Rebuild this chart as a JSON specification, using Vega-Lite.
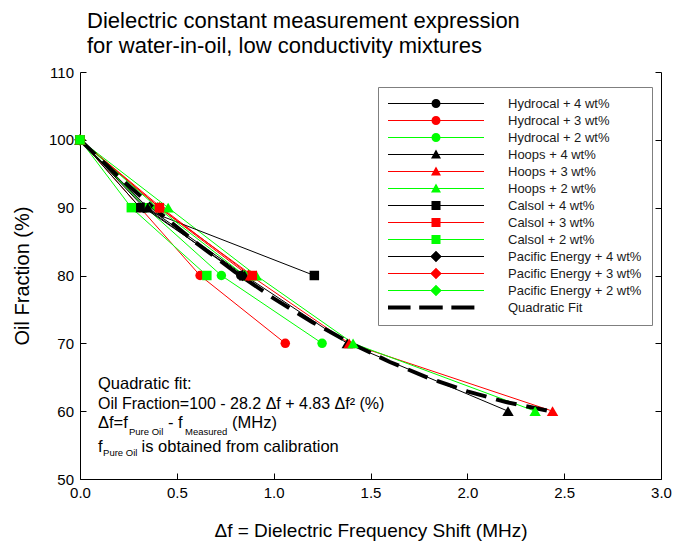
{
  "$schema": "https://vega.github.io/schema/vega-lite/v6.json",
  "width": 581,
  "height": 407,
  "autosize": {"type": "none"},
  "padding": {"left": 80, "top": 72, "right": 15, "bottom": 65},
  "background": "white",
  "title": {
    "text": ["Dielectric constant measurement expression", "for water-in-oil, low conductivity mixtures"],
    "anchor": "start", "frame": "group", "font": "Liberation Sans", "fontSize": 22,
    "fontWeight": "normal", "color": "black", "lineHeight": 25, "offset": 7, "dx": 7
  },
  "config": {
    "view": {"stroke": null},
    "axis": {"grid": false, "domainColor": "black", "tickColor": "black", "labelColor": "black", "titleColor": "black",
      "labelFont": "Liberation Sans", "titleFont": "Liberation Sans", "titleFontWeight": "normal"}
  },
  "datasets": {
    "pts": [
      {"series": "Hydrocal + 4 wt%", "product": "Hydrocal", "df": 0, "oil": 100},
      {"series": "Hydrocal + 4 wt%", "product": "Hydrocal", "df": 0.34, "oil": 90},
      {"series": "Hydrocal + 4 wt%", "product": "Hydrocal", "df": 0.83, "oil": 80},
      {"series": "Hydrocal + 3 wt%", "product": "Hydrocal", "df": 0, "oil": 100},
      {"series": "Hydrocal + 3 wt%", "product": "Hydrocal", "df": 0.31, "oil": 90},
      {"series": "Hydrocal + 3 wt%", "product": "Hydrocal", "df": 0.62, "oil": 80},
      {"series": "Hydrocal + 3 wt%", "product": "Hydrocal", "df": 1.06, "oil": 70},
      {"series": "Hydrocal + 2 wt%", "product": "Hydrocal", "df": 0, "oil": 100},
      {"series": "Hydrocal + 2 wt%", "product": "Hydrocal", "df": 0.34, "oil": 90},
      {"series": "Hydrocal + 2 wt%", "product": "Hydrocal", "df": 0.73, "oil": 80},
      {"series": "Hydrocal + 2 wt%", "product": "Hydrocal", "df": 1.25, "oil": 70},
      {"series": "Hoops + 4 wt%", "product": "Hoops", "df": 0, "oil": 100},
      {"series": "Hoops + 4 wt%", "product": "Hoops", "df": 0.35, "oil": 90},
      {"series": "Hoops + 4 wt%", "product": "Hoops", "df": 0.85, "oil": 80},
      {"series": "Hoops + 4 wt%", "product": "Hoops", "df": 1.38, "oil": 70},
      {"series": "Hoops + 4 wt%", "product": "Hoops", "df": 2.21, "oil": 60},
      {"series": "Hoops + 3 wt%", "product": "Hoops", "df": 0, "oil": 100},
      {"series": "Hoops + 3 wt%", "product": "Hoops", "df": 0.42, "oil": 90},
      {"series": "Hoops + 3 wt%", "product": "Hoops", "df": 0.88, "oil": 80},
      {"series": "Hoops + 3 wt%", "product": "Hoops", "df": 1.39, "oil": 70},
      {"series": "Hoops + 3 wt%", "product": "Hoops", "df": 2.44, "oil": 60},
      {"series": "Hoops + 2 wt%", "product": "Hoops", "df": 0, "oil": 100},
      {"series": "Hoops + 2 wt%", "product": "Hoops", "df": 0.455, "oil": 90},
      {"series": "Hoops + 2 wt%", "product": "Hoops", "df": 0.91, "oil": 80},
      {"series": "Hoops + 2 wt%", "product": "Hoops", "df": 1.41, "oil": 70},
      {"series": "Hoops + 2 wt%", "product": "Hoops", "df": 2.35, "oil": 60},
      {"series": "Calsol + 4 wt%", "product": "Calsol", "df": 0, "oil": 100},
      {"series": "Calsol + 4 wt%", "product": "Calsol", "df": 0.31, "oil": 90},
      {"series": "Calsol + 4 wt%", "product": "Calsol", "df": 1.21, "oil": 80},
      {"series": "Calsol + 3 wt%", "product": "Calsol", "df": 0, "oil": 100},
      {"series": "Calsol + 3 wt%", "product": "Calsol", "df": 0.41, "oil": 90},
      {"series": "Calsol + 3 wt%", "product": "Calsol", "df": 0.89, "oil": 80},
      {"series": "Calsol + 2 wt%", "product": "Calsol", "df": 0, "oil": 100},
      {"series": "Calsol + 2 wt%", "product": "Calsol", "df": 0.265, "oil": 90},
      {"series": "Calsol + 2 wt%", "product": "Calsol", "df": 0.655, "oil": 80},
      {"series": "Pacific Energy + 4 wt%", "product": "Pacific Energy", "df": 0, "oil": 100},
      {"series": "Pacific Energy + 4 wt%", "product": "Pacific Energy", "df": 0.33, "oil": 90},
      {"series": "Pacific Energy + 4 wt%", "product": "Pacific Energy", "df": 0.84, "oil": 80},
      {"series": "Pacific Energy + 3 wt%", "product": "Pacific Energy", "df": 0, "oil": 100},
      {"series": "Pacific Energy + 3 wt%", "product": "Pacific Energy", "df": 0.41, "oil": 90},
      {"series": "Pacific Energy + 3 wt%", "product": "Pacific Energy", "df": 0.87, "oil": 80},
      {"series": "Pacific Energy + 2 wt%", "product": "Pacific Energy", "df": 0, "oil": 100},
      {"series": "Pacific Energy + 2 wt%", "product": "Pacific Energy", "df": 0.40, "oil": 90},
      {"series": "Pacific Energy + 2 wt%", "product": "Pacific Energy", "df": 0.85, "oil": 80}
    ],
    "fit": [
      {"df": 0, "oil": 100}, {"df": 0.2, "oil": 94.55}, {"df": 0.4, "oil": 89.49}, {"df": 0.6, "oil": 84.82},
      {"df": 0.8, "oil": 80.53}, {"df": 1.0, "oil": 76.63}, {"df": 1.2, "oil": 73.12}, {"df": 1.4, "oil": 69.99},
      {"df": 1.6, "oil": 67.25}, {"df": 1.8, "oil": 64.89}, {"df": 2.0, "oil": 62.92}, {"df": 2.2, "oil": 61.34},
      {"df": 2.42, "oil": 60.04}
    ]
  },
  "layer": [
    {
      "data": {"name": "pts"},
      "mark": {"type": "point", "filled": true, "size": 9216, "opacity": 0},
      "encoding": {
        "x": {"field": "df", "type": "quantitative", "scale": {"domain": [0, 3], "nice": false, "zero": false}},
        "y": {"field": "oil", "type": "quantitative", "axis": null, "scale": {"domain": [50, 110], "nice": false, "zero": false}},
        "color": {"field": "series", "type": "nominal",
          "scale": {"domain": ["Hydrocal + 4 wt%", "Hydrocal + 3 wt%", "Hydrocal + 2 wt%", "Hoops + 4 wt%", "Hoops + 3 wt%", "Hoops + 2 wt%", "Calsol + 4 wt%", "Calsol + 3 wt%", "Calsol + 2 wt%", "Pacific Energy + 4 wt%", "Pacific Energy + 3 wt%", "Pacific Energy + 2 wt%", "Quadratic Fit"],
            "range": ["#000000", "#ff0000", "#00ff00", "#000000", "#ff0000", "#00ff00", "#000000", "#ff0000", "#00ff00", "#000000", "#ff0000", "#00ff00", "#000000"]},
          "legend": {"title": null, "orient": "none", "legendX": 298, "legendY": 15, "direction": "vertical",
            "labelFont": "Liberation Sans", "labelFontSize": 13, "labelColor": "#1a1a1a", "labelLimit": 300,
            "symbolSize": 9216, "symbolOpacity": 1, "symbolStrokeWidth": 0, "labelOffset": 24, "rowPadding": 3,
            "padding": 10, "strokeColor": "#7f7f7f", "fillColor": "white", "clipHeight": 13}},
        "shape": {"field": "series", "type": "nominal",
          "scale": {"domain": ["Hydrocal + 4 wt%", "Hydrocal + 3 wt%", "Hydrocal + 2 wt%", "Hoops + 4 wt%", "Hoops + 3 wt%", "Hoops + 2 wt%", "Calsol + 4 wt%", "Calsol + 3 wt%", "Calsol + 2 wt%", "Pacific Energy + 4 wt%", "Pacific Energy + 3 wt%", "Pacific Energy + 2 wt%", "Quadratic Fit"],
            "range": [
              "M-1,-0.011H1V0.011H-1Z M-0.094,0A0.094,0.094 0 1,1 0.094,0A0.094,0.094 0 1,1 -0.094,0Z",
              "M-1,-0.011H1V0.011H-1Z M-0.094,0A0.094,0.094 0 1,1 0.094,0A0.094,0.094 0 1,1 -0.094,0Z",
              "M-1,-0.011H1V0.011H-1Z M-0.094,0A0.094,0.094 0 1,1 0.094,0A0.094,0.094 0 1,1 -0.094,0Z",
              "M-1,-0.011H1V0.011H-1Z M0,-0.104L0.104,0.083H-0.104Z",
              "M-1,-0.011H1V0.011H-1Z M0,-0.104L0.104,0.083H-0.104Z",
              "M-1,-0.011H1V0.011H-1Z M0,-0.104L0.104,0.083H-0.104Z",
              "M-1,-0.011H1V0.011H-1Z M-0.094,-0.094H0.094V0.094H-0.094Z",
              "M-1,-0.011H1V0.011H-1Z M-0.094,-0.094H0.094V0.094H-0.094Z",
              "M-1,-0.011H1V0.011H-1Z M-0.094,-0.094H0.094V0.094H-0.094Z",
              "M-1,-0.011H1V0.011H-1Z M0,-0.12L0.12,0L0,0.12L-0.12,0Z",
              "M-1,-0.011H1V0.011H-1Z M0,-0.12L0.12,0L0,0.12L-0.12,0Z",
              "M-1,-0.011H1V0.011H-1Z M0,-0.12L0.12,0L0,0.12L-0.12,0Z",
              "M-1,-0.04H-0.53V0.04H-1Z M-0.35,-0.04H0.14V0.04H-0.35Z M0.32,-0.04H0.8V0.04H0.32Z"
            ]},
          "legend": {"title": null, "orient": "none", "legendX": 298, "legendY": 15, "direction": "vertical",
            "labelFont": "Liberation Sans", "labelFontSize": 13, "labelColor": "#1a1a1a", "labelLimit": 300,
            "symbolSize": 9216, "symbolOpacity": 1, "symbolStrokeWidth": 0, "labelOffset": 24, "rowPadding": 3,
            "padding": 10, "strokeColor": "#7f7f7f", "fillColor": "white", "clipHeight": 13}}
      }
    },
    {
      "data": {"name": "pts"},
      "mark": {"type": "line", "strokeWidth": 1},
      "encoding": {
        "x": {"field": "df", "type": "quantitative",
          "axis": {"title": "Δf = Dielectric Frequency Shift (MHz)", "titleFontSize": 19, "titlePadding": 21,
            "labelFontSize": 15, "values": [0, 0.5, 1, 1.5, 2, 2.5, 3], "format": ".1f", "tickSize": -6,
            "labelPadding": 12.5, "labelFlush": false, "labelOverlap": false}},
        "y": {"field": "oil", "type": "quantitative",
          "axis": {"title": "Oil Fraction (%)", "titleFontSize": 20, "titlePadding": 16, "labelFontSize": 15,
            "values": [50, 60, 70, 80, 90, 100, 110], "tickSize": -6, "labelPadding": 12.5, "labelFlush": false, "labelOverlap": false}},
        "color": {"field": "series", "type": "nominal", "legend": null}
      }
    },
    {
      "data": {"name": "fit"},
      "mark": {"type": "line", "color": "black", "strokeWidth": 4, "strokeDash": [21, 10], "strokeCap": "butt"},
      "encoding": {
        "x": {"field": "df", "type": "quantitative"},
        "y": {"field": "oil", "type": "quantitative",
          "axis": {"orient": "right", "title": null, "labels": false, "values": [50, 60, 70, 80, 90, 100, 110], "tickSize": -6}}
      }
    },
    {
      "data": {"name": "pts"},
      "transform": [{"filter": "datum.product === 'Pacific Energy'"}],
      "mark": {"type": "point", "shape": "diamond", "filled": true, "size": 130, "opacity": 1},
      "encoding": {
        "x": {"field": "df", "type": "quantitative"},
        "y": {"field": "oil", "type": "quantitative", "axis": null},
        "color": {"field": "series", "type": "nominal", "legend": null}
      }
    },
    {
      "data": {"name": "pts"},
      "transform": [{"filter": "datum.product === 'Hydrocal'"}],
      "mark": {"type": "point", "shape": "circle", "filled": true, "size": 90, "opacity": 1},
      "encoding": {
        "x": {"field": "df", "type": "quantitative"},
        "y": {"field": "oil", "type": "quantitative", "axis": null},
        "color": {"field": "series", "type": "nominal", "legend": null}
      }
    },
    {
      "data": {"name": "pts"},
      "transform": [{"filter": "datum.product === 'Hoops'"}],
      "mark": {"type": "point", "shape": "triangle-up", "filled": true, "size": 130, "opacity": 1},
      "encoding": {
        "x": {"field": "df", "type": "quantitative"},
        "y": {"field": "oil", "type": "quantitative", "axis": null},
        "color": {"field": "series", "type": "nominal", "legend": null}
      }
    },
    {
      "data": {"name": "pts"},
      "transform": [{"filter": "datum.product === 'Calsol'"}],
      "mark": {"type": "point", "shape": "square", "filled": true, "size": 90, "opacity": 1},
      "encoding": {
        "x": {"field": "df", "type": "quantitative"},
        "y": {"field": "oil", "type": "quantitative", "axis": null},
        "color": {"field": "series", "type": "nominal", "legend": null}
      }
    },
    {
      "data": {"values": [{}]},
      "mark": {"type": "text", "align": "left", "baseline": "middle", "font": "Liberation Sans", "fontSize": 16.5, "color": "black"},
      "encoding": {"x": {"datum": 0.093, "type": "quantitative"}, "y": {"datum": 64.01, "type": "quantitative", "axis": null}, "text": {"value": "Quadratic fit:"}}
    },
    {
      "data": {"values": [{}]},
      "mark": {"type": "text", "align": "left", "baseline": "middle", "font": "Liberation Sans", "fontSize": 16, "color": "black"},
      "encoding": {"x": {"datum": 0.093, "type": "quantitative"}, "y": {"datum": 61.06, "type": "quantitative", "axis": null}, "text": {"value": "Oil Fraction=100 - 28.2 Δf + 4.83 Δf² (%)"}}
    },
    {
      "data": {"values": [{}]},
      "mark": {"type": "text", "align": "left", "baseline": "middle", "font": "Liberation Sans", "fontSize": 16.5, "color": "black"},
      "encoding": {"x": {"datum": 0.093, "type": "quantitative"}, "y": {"datum": 58.25, "type": "quantitative", "axis": null}, "text": {"value": "Δf=f"}}
    },
    {
      "data": {"values": [{}]},
      "mark": {"type": "text", "align": "left", "baseline": "middle", "font": "Liberation Sans", "fontSize": 9.5, "color": "black"},
      "encoding": {"x": {"datum": 0.253, "type": "quantitative"}, "y": {"datum": 56.93, "type": "quantitative", "axis": null}, "text": {"value": "Pure Oil"}}
    },
    {
      "data": {"values": [{}]},
      "mark": {"type": "text", "align": "left", "baseline": "middle", "font": "Liberation Sans", "fontSize": 16.5, "color": "black"},
      "encoding": {"x": {"datum": 0.454, "type": "quantitative"}, "y": {"datum": 58.25, "type": "quantitative", "axis": null}, "text": {"value": "- f"}}
    },
    {
      "data": {"values": [{}]},
      "mark": {"type": "text", "align": "left", "baseline": "middle", "font": "Liberation Sans", "fontSize": 9.5, "color": "black"},
      "encoding": {"x": {"datum": 0.542, "type": "quantitative"}, "y": {"datum": 56.93, "type": "quantitative", "axis": null}, "text": {"value": "Measured"}}
    },
    {
      "data": {"values": [{}]},
      "mark": {"type": "text", "align": "left", "baseline": "middle", "font": "Liberation Sans", "fontSize": 16.5, "color": "black"},
      "encoding": {"x": {"datum": 0.785, "type": "quantitative"}, "y": {"datum": 58.25, "type": "quantitative", "axis": null}, "text": {"value": "(MHz)"}}
    },
    {
      "data": {"values": [{}]},
      "mark": {"type": "text", "align": "left", "baseline": "middle", "font": "Liberation Sans", "fontSize": 16.5, "color": "black"},
      "encoding": {"x": {"datum": 0.093, "type": "quantitative"}, "y": {"datum": 54.79, "type": "quantitative", "axis": null}, "text": {"value": "f"}}
    },
    {
      "data": {"values": [{}]},
      "mark": {"type": "text", "align": "left", "baseline": "middle", "font": "Liberation Sans", "fontSize": 9.5, "color": "black"},
      "encoding": {"x": {"datum": 0.119, "type": "quantitative"}, "y": {"datum": 53.83, "type": "quantitative", "axis": null}, "text": {"value": "Pure Oil"}}
    },
    {
      "data": {"values": [{}]},
      "mark": {"type": "text", "align": "left", "baseline": "middle", "font": "Liberation Sans", "fontSize": 16.5, "color": "black"},
      "encoding": {"x": {"datum": 0.318, "type": "quantitative"}, "y": {"datum": 54.79, "type": "quantitative", "axis": null}, "text": {"value": "is obtained from calibration"}}
    }
  ],
  "resolve": {"axis": {"y": "independent"}}
}
